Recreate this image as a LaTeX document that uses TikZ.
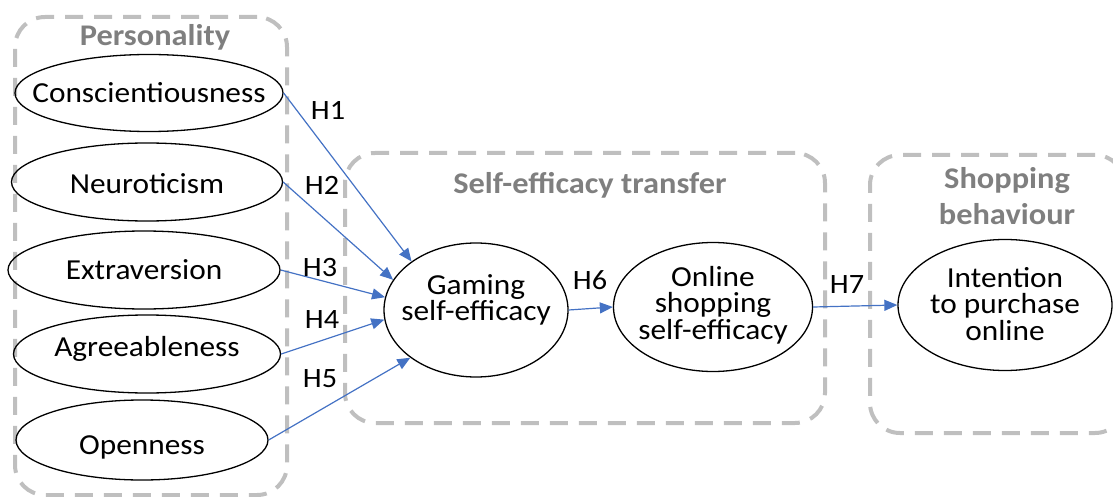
\documentclass[tikz,border=0pt]{standalone}
\usepackage{fontspec}
\setmainfont{Carlito}[FakeStretch=1.08]
\usetikzlibrary{shapes.geometric,arrows.meta}
\definecolor{grpgray}{HTML}{BFBFBF}
\definecolor{ttlgray}{HTML}{7F7F7F}
\definecolor{arrblue}{HTML}{4472C4}
\begin{document}
\begin{tikzpicture}[x=1pt,y=-1pt,
 grp/.style={draw=grpgray, line width=4pt, dash pattern=on 18pt off 11pt, rounded corners=30pt, rectangle, inner sep=0pt},
 ttl/.style={text=ttlgray, font=\fontsize{30}{36}\selectfont\bfseries, align=center, inner sep=0pt},
 ell/.style={draw=black, line width=1.3pt, ellipse, inner sep=0pt},
 txt/.style={font=\fontsize{29}{26.5}\selectfont, align=center, inner sep=0pt},
 hyp/.style={font=\fontsize{28}{30}\selectfont, inner sep=0pt},
 arr/.style={draw=arrblue, line width=1.2pt, -{Triangle[length=13pt,width=11pt]}}
]
\useasboundingbox (0,0) rectangle (1113,497);
\clip (0,0) rectangle (1113,497);
% group boxes
\node[grp, minimum width=272pt, minimum height=478pt] (pbox) at (151,256) {};
\node[grp, minimum width=480pt, minimum height=270pt] (sbox) at (585,288) {};
\node[grp, minimum width=255pt, minimum height=278pt] (bbox) at (997.5,294) {};
% titles
\node[ttl] (ptitle) at (155,37) {Personality};
\node[ttl] (stitle) at (590,185) {Self-efficacy transfer};
\node[ttl] (btitle) at (1007,196) {Shopping\\behaviour};
% ellipses
\node[ell, minimum width=268pt, minimum height=77pt] (c) at (149,93) {};
\node[ell, minimum width=271pt, minimum height=78pt] (n) at (147,182) {};
\node[ell, minimum width=272pt, minimum height=78pt] (e) at (144,270) {};
\node[ell, minimum width=267pt, minimum height=78pt] (a) at (147,354) {};
\node[ell, minimum width=252pt, minimum height=80pt] (o) at (142,440) {};
\node[ell, minimum width=184pt, minimum height=134pt] (g) at (476,310) {};
\node[ell, minimum width=199pt, minimum height=129pt] (s) at (713,307) {};
\node[ell, minimum width=214pt, minimum height=131pt] (i) at (1005,305) {};
% texts
\node[txt] (ct) at (149,93) {Conscientiousness};
\node[txt] (nt) at (147,184) {Neuroticism};
\node[txt] (et) at (144,270) {Extraversion};
\node[txt] (at) at (147,349) {Agreeableness};
\node[txt] (ot) at (142,447) {Openness};
\node[txt] (gt) at (476,300) {Gaming\\self-efficacy};
\node[txt] (st) at (713,305) {Online\\shopping\\self-efficacy};
\node[txt] (it) at (1005,304) {Intention\\to purchase\\online};
% arrows
\draw[arr] (c.east) -- (g.143);
\draw[arr] (n.east) -- (g.160);
\draw[arr] (e.east) -- (g.172);
\draw[arr] (a.east) -- (g.186);
\draw[arr] (o.east) -- (g.216);
\draw[arr] (g.east) -- (s.west);
\draw[arr] (s.east) -- (i.west);
% labels
\node[hyp] (h1) at (328,110) {H1};
\node[hyp] (h2) at (322,185) {H2};
\node[hyp] (h3) at (320,268) {H3};
\node[hyp] (h4) at (322,320) {H4};
\node[hyp] (h5) at (320,379) {H5};
\node[hyp] (h6) at (590,280) {H6};
\node[hyp] (h7) at (847,285) {H7};
\end{tikzpicture}
\end{document}
